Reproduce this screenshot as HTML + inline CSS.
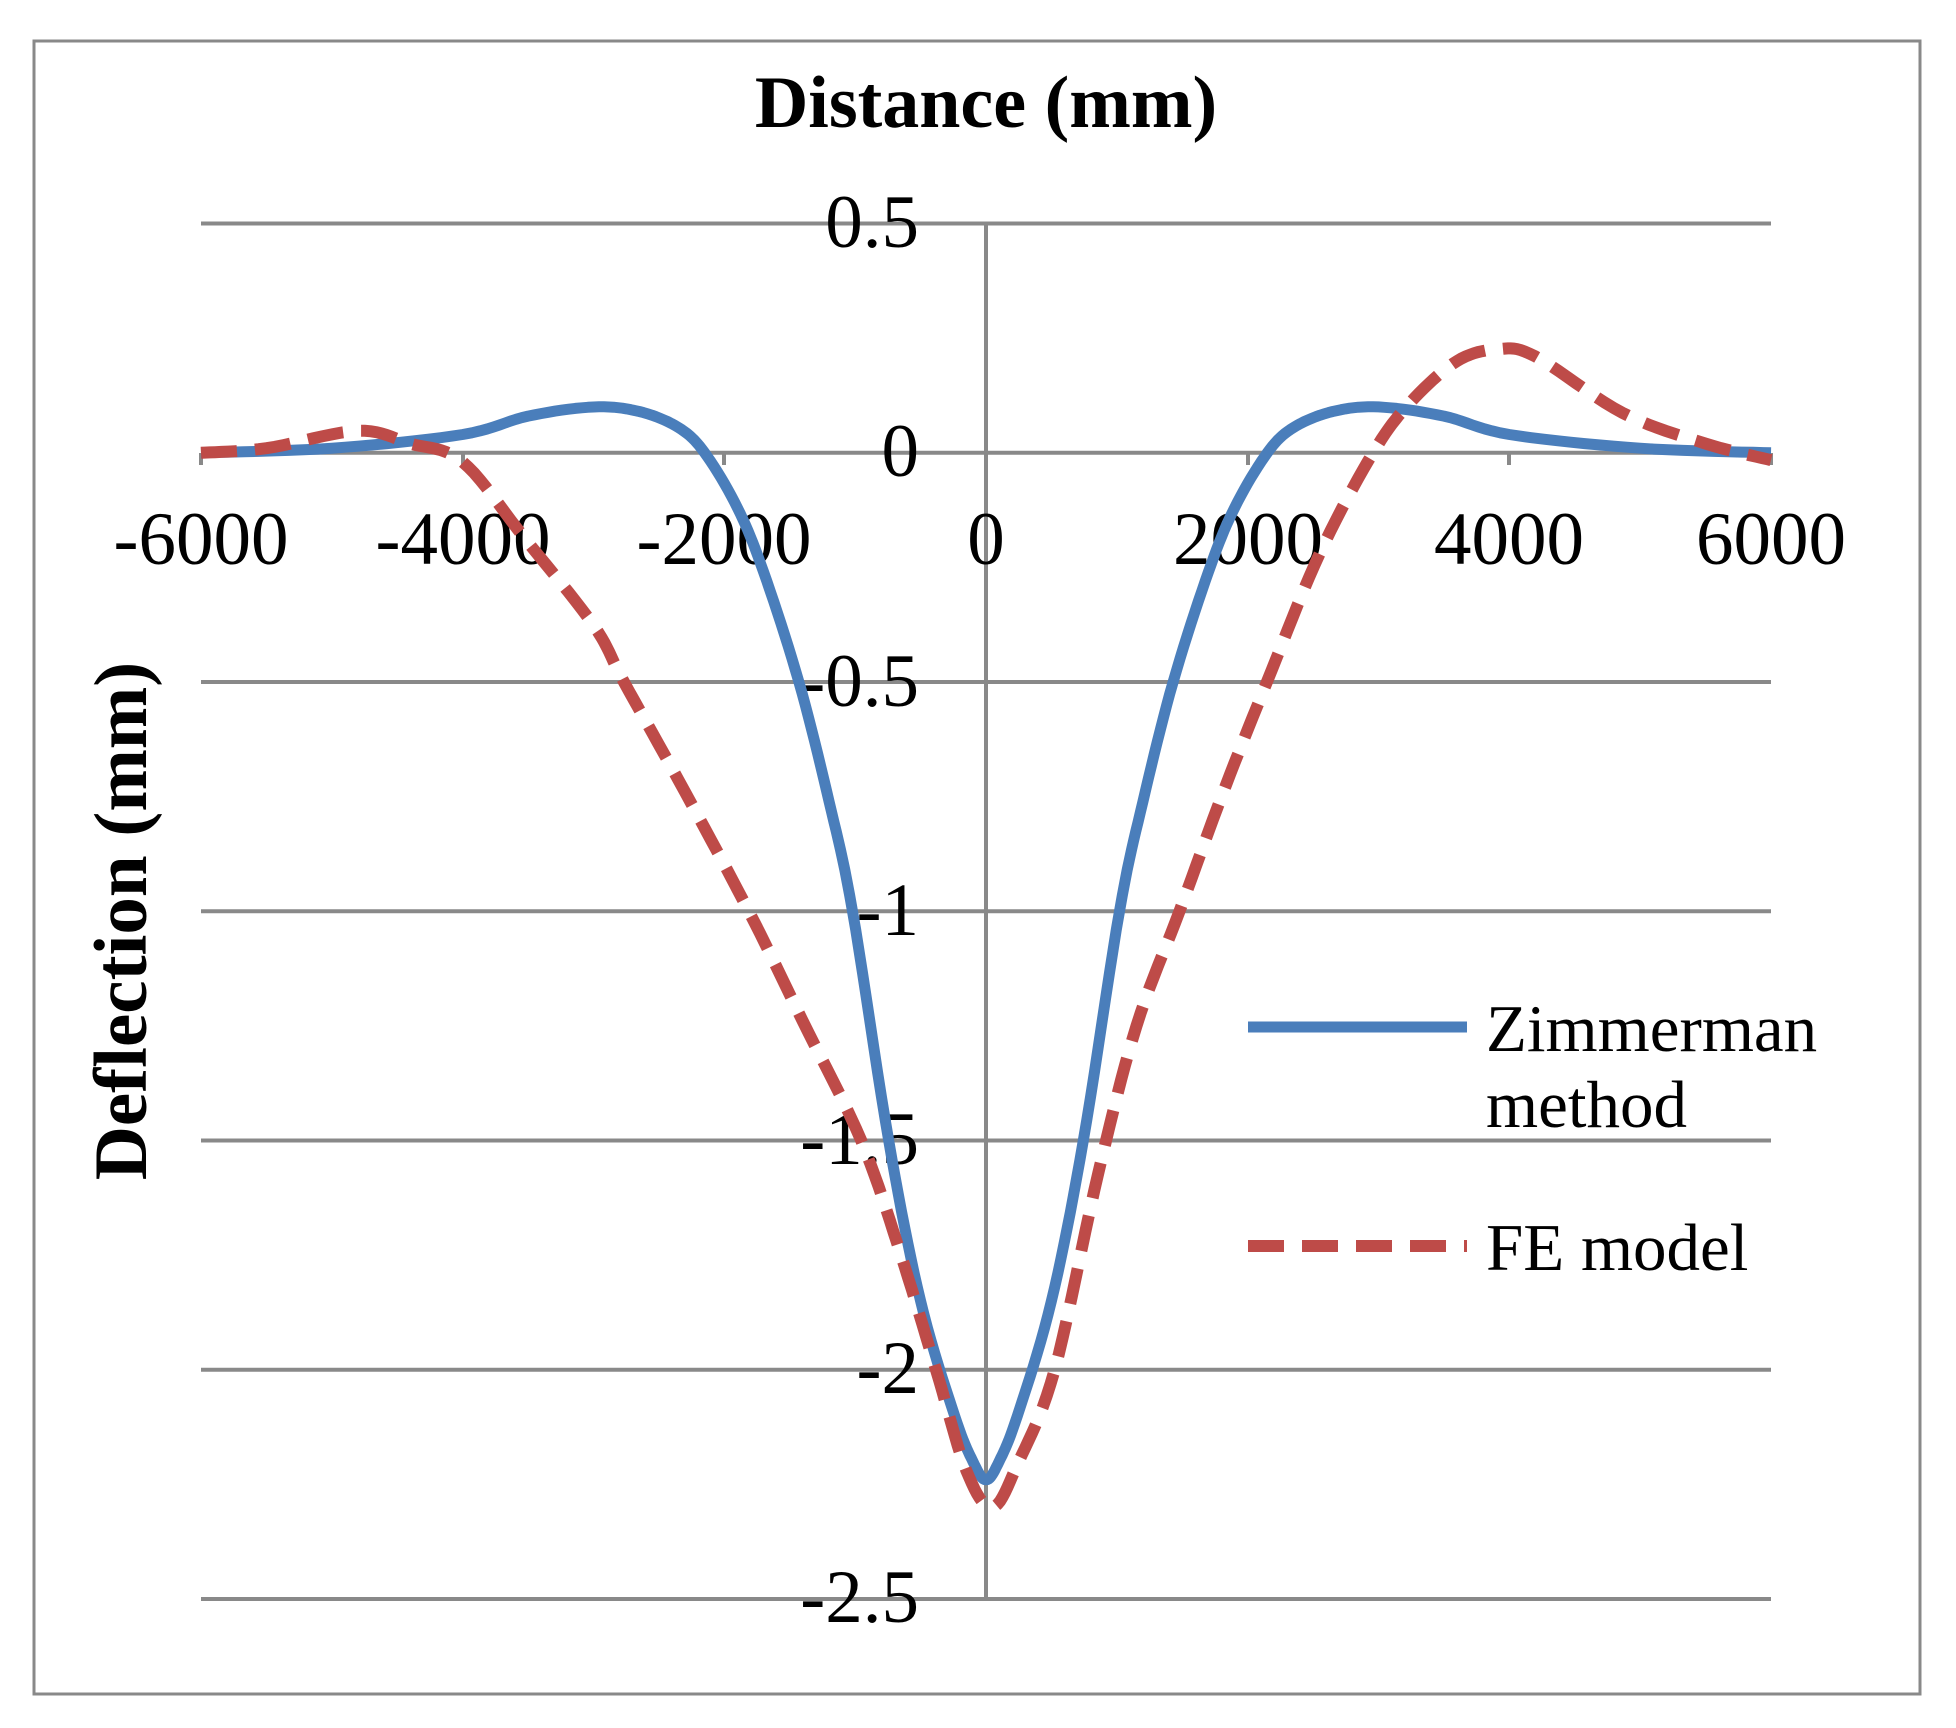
<!DOCTYPE html>
<html><head><meta charset="utf-8"><style>
html,body{margin:0;padding:0;background:#fff;}
svg{display:block;}
text{font-family:"Liberation Serif",serif;fill:#000;}
</style></head><body>
<svg id="s" width="1956" height="1728" viewBox="0 0 1956 1728" xmlns="http://www.w3.org/2000/svg">
<rect x="0" y="0" width="1956" height="1728" fill="#fff"/>
<rect x="34" y="41" width="1886" height="1653" fill="none" stroke="#898989" stroke-width="3"/>
<g stroke="#898989" stroke-width="4">
<line x1="201" y1="223.5" x2="1771" y2="223.5"/>
<line x1="201" y1="452.8" x2="1771" y2="452.8"/>
<line x1="201" y1="682" x2="1771" y2="682"/>
<line x1="201" y1="911.3" x2="1771" y2="911.3"/>
<line x1="201" y1="1140.5" x2="1771" y2="1140.5"/>
<line x1="201" y1="1369.8" x2="1771" y2="1369.8"/>
<line x1="201" y1="1599" x2="1771" y2="1599"/>
<line x1="986" y1="223.5" x2="986" y2="1599"/>
<line x1="201" y1="453" x2="201" y2="465"/><line x1="463" y1="453" x2="463" y2="465"/><line x1="724" y1="453" x2="724" y2="465"/><line x1="1248" y1="453" x2="1248" y2="465"/><line x1="1509" y1="453" x2="1509" y2="465"/><line x1="1771" y1="453" x2="1771" y2="465"/>
</g>
<text x="986" y="127" font-size="74" font-weight="bold" text-anchor="middle">Distance (mm)</text>
<text transform="translate(146,921) rotate(-90)" font-size="75" font-weight="bold" text-anchor="middle">Deflection (mm)</text>
<g font-size="75" text-anchor="end">
<text x="919" y="247">0.5</text>
<text x="919" y="476">0</text>
<text x="919" y="706">-0.5</text>
<text x="919" y="935">-1</text>
<text x="919" y="1164">-1.5</text>
<text x="919" y="1393">-2</text>
<text x="919" y="1622">-2.5</text>
</g>
<g font-size="75" text-anchor="middle">
<text x="201" y="564">-6000</text>
<text x="463" y="564">-4000</text>
<text x="724" y="564">-2000</text>
<text x="986" y="564">0</text>
<text x="1248" y="564">2000</text>
<text x="1509" y="564">4000</text>
<text x="1771" y="564">6000</text>
</g>
<path id="zim" fill="none" stroke="#4a7ebb" stroke-width="11" stroke-linejoin="round"/>
<path id="fe" fill="none" stroke="#be4b48" stroke-width="12" stroke-dasharray="36,18"/>
<line x1="1248" y1="1027" x2="1467" y2="1027" stroke="#4a7ebb" stroke-width="11"/>
<line x1="1248" y1="1246" x2="1467" y2="1246" stroke="#be4b48" stroke-width="12" stroke-dasharray="36,18"/>
<g font-size="67">
<text x="1486" y="1051">Zimmerman</text>
<text x="1486" y="1127">method</text>
<text x="1486" y="1270">FE model</text>
</g>
</svg>
<script>
function X(v){return 986+v*1570/12000;}
function Y(v){return 452.8-v*458.5;}
function cr(pts){
  var d="M"+X(pts[0][0]).toFixed(1)+","+Y(pts[0][1]).toFixed(1);
  for(var i=0;i<pts.length-1;i++){
    var p0=pts[Math.max(i-1,0)],p1=pts[i],p2=pts[i+1],p3=pts[Math.min(i+2,pts.length-1)];
    for(var t=0.1;t<=1.0001;t+=0.1){
      var t2=t*t,t3=t2*t;
      var f=function(a,b,c,e){return 0.5*((2*b)+(-a+c)*t+(2*a-5*b+4*c-e)*t2+(-a+3*b-3*c+e)*t3);};
      var x=f(p0[0],p1[0],p2[0],p3[0]),y=f(p0[1],p1[1],p2[1],p3[1]);
      d+=" L"+X(x).toFixed(1)+","+Y(y).toFixed(1);
    }
  }
  return d;
}
var zl=[[-6000,0],[-5000,0.01],[-4000,0.04],[-3500,0.08],[-3000,0.1],[-2650,0.09],[-2350,0.055],[-2150,0],[-1900,-0.12],[-1700,-0.26],[-1430,-0.5],[-1200,-0.76],[-1020,-1.0],[-744,-1.5],[-500,-1.85],[-240,-2.1],[-100,-2.2],[0,-2.24]];
var z=zl.slice();
for(var i=zl.length-2;i>=0;i--)z.push([-zl[i][0],zl[i][1]]);
var fe=[[-6000,0],[-5500,0.01],[-4800,0.048],[-4400,0.02],[-4000,-0.02],[-3530,-0.185],[-3000,-0.376],[-2767,-0.5],[-2300,-0.74],[-1813,-1.0],[-1400,-1.24],[-954,-1.5],[-650,-1.75],[-382,-2.0],[-150,-2.22],[50,-2.3],[250,-2.2],[525,-2.0],[859,-1.57],[1150,-1.25],[1479,-1.0],[1800,-0.75],[2147,-0.5],[2550,-0.22],[2958,0],[3244,0.11],[3600,0.2],[3912,0.226],[4200,0.21],[4866,0.087],[5500,0.02],[6000,-0.016]];
document.getElementById('zim').setAttribute('d',cr(z));
document.getElementById('fe').setAttribute('d',cr(fe));
</script>
</body></html>
